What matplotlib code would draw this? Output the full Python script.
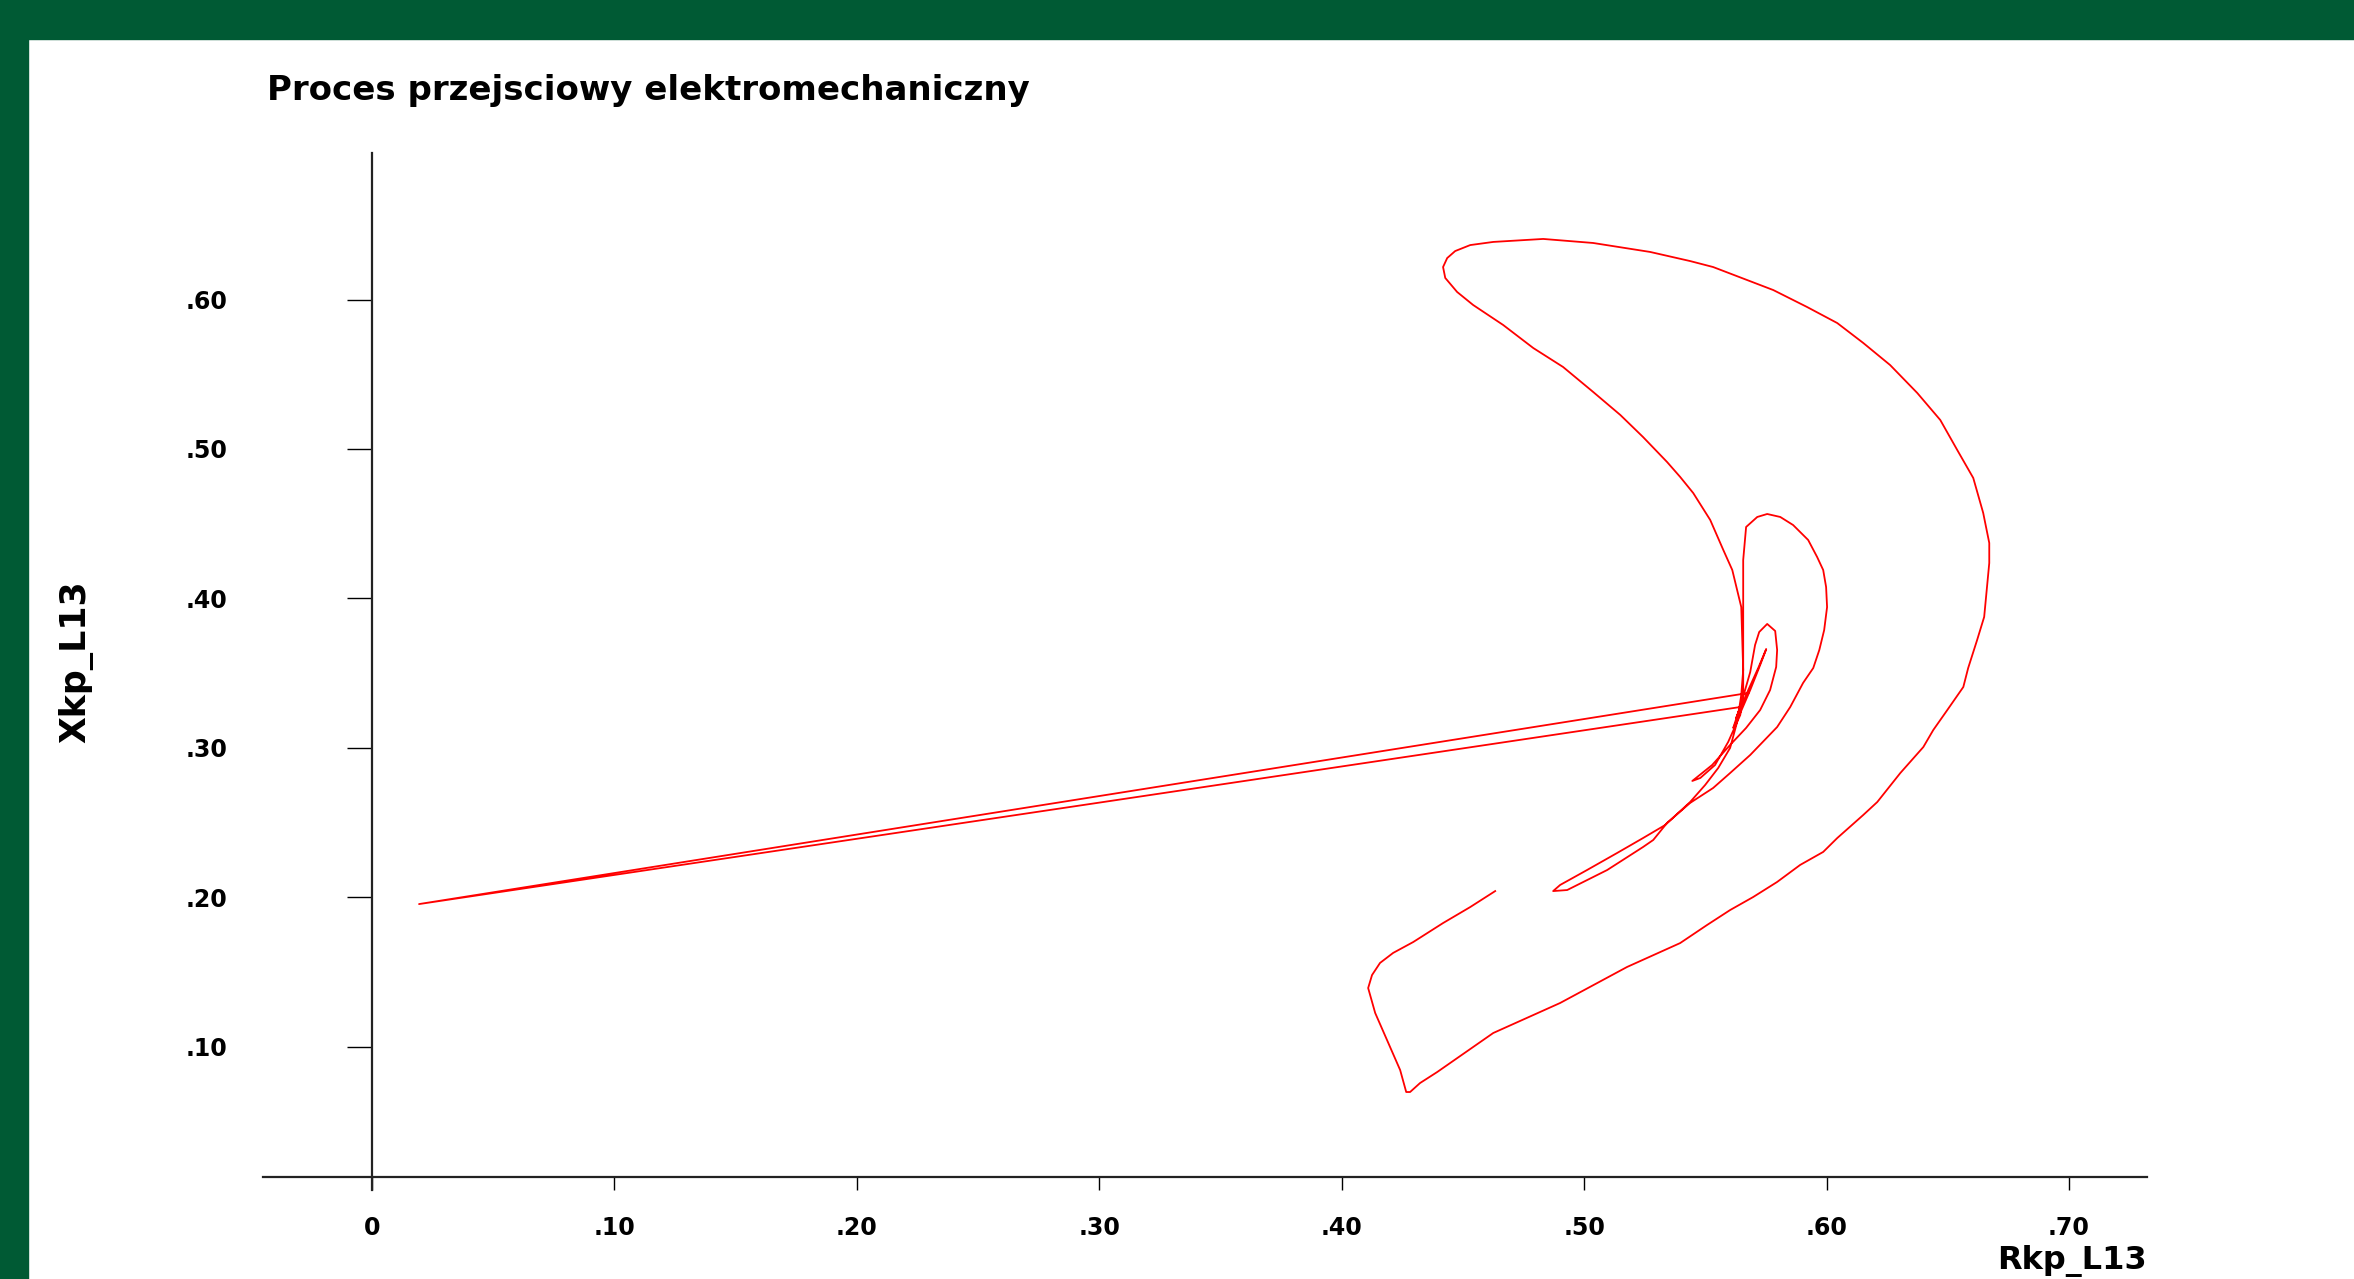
import matplotlib
matplotlib.use("Agg")
import matplotlib.pyplot as plt
from matplotlib.patches import Rectangle

# impedance locus Rkp_L13 / Xkp_L13
# fault: operating point -> fault point -> point after clearing
fault_r = [0.5677, 0.0194, 0.5644]
fault_x = [0.3367, 0.1954, 0.3273]

# first small swings in the tangle near the operating point
swing1_r = [0.5644, 0.5627, 0.5677, 0.5718, 0.5751, 0.5726, 0.5685, 0.5635, 0.5615,
            0.5652, 0.5685, 0.5705, 0.5722, 0.5755, 0.5788, 0.5796, 0.5792, 0.5767,
            0.5726, 0.5668, 0.5602, 0.5528, 0.5446, 0.5479, 0.5540, 0.5594, 0.5644]
swing1_x = [0.3273, 0.3199, 0.3387, 0.3534, 0.3661, 0.3554, 0.3387, 0.3199, 0.3133,
            0.3320, 0.3507, 0.3688, 0.3775, 0.3829, 0.3782, 0.3655, 0.3541, 0.3387,
            0.3253, 0.3133, 0.3019, 0.2885, 0.2778, 0.2798, 0.2885, 0.3039, 0.3220]

# middle loop and the narrow loop down to the left
swing2_r = [0.5644, 0.5656, 0.5656, 0.5656, 0.5656, 0.5668, 0.5714, 0.5755, 0.5809,
            0.5862, 0.5924, 0.5961, 0.5986, 0.5998, 0.6002, 0.5990, 0.5970, 0.5945,
            0.5903, 0.5850, 0.5796, 0.5685, 0.5602, 0.5532, 0.5437, 0.5342, 0.5285,
            0.5243, 0.5095, 0.4930, 0.4872, 0.4901, 0.5012, 0.5136, 0.5243, 0.5334,
            0.5437, 0.5499, 0.5553, 0.5602, 0.5631, 0.5648, 0.5656]
swing2_x = [0.3220, 0.3387, 0.3655, 0.3989, 0.4257, 0.4478, 0.4545, 0.4565, 0.4545,
            0.4491, 0.4391, 0.4277, 0.4190, 0.4076, 0.3942, 0.3788, 0.3655, 0.3534,
            0.3434, 0.3273, 0.3139, 0.2952, 0.2831, 0.2731, 0.2631, 0.2497, 0.2383,
            0.2336, 0.2182, 0.2048, 0.2041, 0.2082, 0.2182, 0.2296, 0.2396, 0.2483,
            0.2637, 0.2751, 0.2865, 0.2999, 0.3173, 0.3353, 0.3521]

# big loop until the end of the run
swing3_r = [0.5656, 0.5652, 0.5648, 0.5631, 0.5611, 0.5574, 0.5520, 0.5450, 0.5396,
            0.5342, 0.5243, 0.5149, 0.5037, 0.4913, 0.4790, 0.4666, 0.4542, 0.4476,
            0.4427, 0.4418, 0.4435, 0.4468, 0.4530, 0.4625, 0.4831, 0.5037, 0.5272,
            0.5437, 0.5532, 0.5672, 0.5780, 0.5920, 0.6044, 0.6151, 0.6262, 0.6374,
            0.6469, 0.6539, 0.6605, 0.6646, 0.6671, 0.6671, 0.6658, 0.6650, 0.6621,
            0.6584, 0.6564, 0.6498, 0.6440, 0.6399, 0.6304, 0.6209, 0.6151, 0.6044,
            0.5986, 0.5891, 0.5796, 0.5697, 0.5602, 0.5507, 0.5396, 0.5177, 0.4901,
            0.4625, 0.4394, 0.4323, 0.4282, 0.4266, 0.4241, 0.4187, 0.4138, 0.4109,
            0.4125, 0.4158, 0.4212, 0.4295, 0.4418, 0.4530, 0.4633]
swing3_x = [0.3521, 0.3722, 0.3942, 0.4056, 0.4190, 0.4324, 0.4525, 0.4705, 0.4813,
            0.4913, 0.5080, 0.5228, 0.5382, 0.5549, 0.5676, 0.5830, 0.5964, 0.6051,
            0.6145, 0.6218, 0.6278, 0.6325, 0.6365, 0.6386, 0.6406, 0.6379, 0.6319,
            0.6258, 0.6218, 0.6131, 0.6064, 0.5950, 0.5843, 0.5710, 0.5562, 0.5375,
            0.5194, 0.4993, 0.4806, 0.4572, 0.4371, 0.4237, 0.4009, 0.3876, 0.3722,
            0.3534, 0.3407, 0.3253, 0.3119, 0.3005, 0.2831, 0.2637, 0.2550, 0.2396,
            0.2303, 0.2216, 0.2102, 0.2001, 0.1914, 0.1814, 0.1693, 0.1533, 0.1292,
            0.1091, 0.0830, 0.0756, 0.0696, 0.0696, 0.0843, 0.1044, 0.1225, 0.1392,
            0.1479, 0.1560, 0.1627, 0.1700, 0.1827, 0.1934, 0.2041]

x_ticks = [0, 0.1, 0.2, 0.3, 0.4, 0.5, 0.6, 0.7]
x_labels = ["0", ".10", ".20", ".30", ".40", ".50", ".60", ".70"]
y_ticks = [0.1, 0.2, 0.3, 0.4, 0.5, 0.6]
y_labels = [".10", ".20", ".30", ".40", ".50", ".60"]

W, H = 2354, 1279
green = "#005a34"

fig = plt.figure(figsize=(W / 100, H / 100), dpi=100)
fig.patch.set_facecolor("white")

# green frame at the top and left edge
fig.patches.append(Rectangle((0, 1 - 39 / H), 1, 39 / H, transform=fig.transFigure,
                             color=green, zorder=0))
fig.patches.append(Rectangle((0, 0), 28 / W, 1, transform=fig.transFigure,
                             color=green, zorder=0))

ax = fig.add_axes([263.4 / W, (H - 1196) / H, (2146.6 - 263.4) / W, (1196 - 150.2) / H])
ax.set_facecolor("none")
ax.set_xlim(-0.0448, 0.732)
ax.set_ylim(0, 0.70)

r = fault_r + swing1_r[1:] + swing2_r[1:] + swing3_r[1:]
x = fault_x + swing1_x[1:] + swing2_x[1:] + swing3_x[1:]
ax.plot(r, x, color="#ff0000", lw=1.3)

for side in ["top", "right"]:
    ax.spines[side].set_visible(False)
ax.spines["left"].set_position(("data", 0))
ax.spines["left"].set_bounds(0.0038, 0.698)
ax.spines["bottom"].set_position(("data", 0.0125))
for side in ["left", "bottom"]:
    ax.spines[side].set_linewidth(1.6)
    ax.spines[side].set_color("#222222")

ax.set_xticks(x_ticks)
ax.set_xticklabels(x_labels)
ax.set_yticks(y_ticks)
ax.set_yticklabels(y_labels)
ax.tick_params(axis="x", direction="out", length=9.5, width=1, pad=18)
ax.tick_params(axis="y", direction="out", length=18, width=1, pad=86)
for lab in ax.get_xticklabels() + ax.get_yticklabels():
    lab.set_fontsize(17)
    lab.set_fontweight("bold")
    lab.set_fontfamily("DejaVu Sans")

fig.text(267 / W, 1 - 100 / H, "Proces przejsciowy elektromechaniczny",
         ha="left", va="baseline", fontsize=24.5, fontweight="bold")
fig.text(76 / W, 1 - 662 / H, "Xkp_L13", rotation=90, ha="center", va="center",
         fontsize=25, fontweight="bold")
fig.text(2147 / W, 10 / H, "Rkp_L13", ha="right", va="baseline",
         fontsize=23, fontweight="bold")

fig.savefig("out.png", dpi=100)
